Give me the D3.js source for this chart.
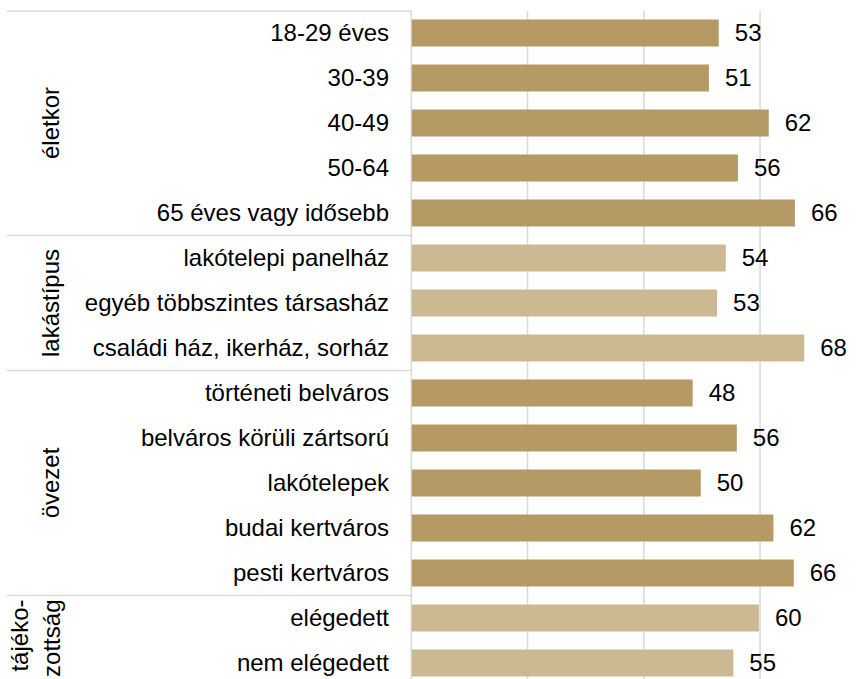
<!DOCTYPE html>
<html>
<head>
<meta charset="utf-8">
<script src="https://cdn.jsdelivr.net/npm/d3@7"></script>
<style>
  body { margin: 0; background: #fff; }
  text { font-family: "Liberation Sans", Arial, sans-serif; fill: #000; }
</style>
</head>
<body>
<div id="chart"></div>
<script>
const categories = [
    "18-29 éves", "30-39", "40-49", "50-64", "65 éves vagy idősebb",
    "lakótelepi panelház", "egyéb többszintes társasház", "családi ház, ikerház, sorház",
    "történeti belváros", "belváros körüli zártsorú", "lakótelepek", "budai kertváros", "pesti kertváros",
    "elégedett", "nem elégedett"
];
const values = [52.9, 51.2, 61.5, 56.2, 66.0, 54.1, 52.6, 67.6, 48.4, 56.0, 49.8, 62.3, 65.8, 59.8, 55.4];
const groupNames = [["életkor"], ["lakástípus"], ["övezet"], ["tájéko-", "zottság"]];
const groupSizes = [5, 3, 5, 2];
const groupShade = ["dark", "light", "dark", "light"];
const gridTicks = [0, 20, 40, 60, 80];

const width = 861;
const height = 679;
const colors = { dark: "#b59a65", light: "#cdb991" };
const lineColor = "#d9d9d9";
const fontSize = 24;

const x = d3.scaleLinear().domain([0, 80]).range([411.3, 876.3]);
const y = d3.scaleBand()
    .domain(d3.range(categories.length))
    .range([10.5, 685.5])
    .paddingInner(0.4)
    .paddingOuter(0.2);

const svg = d3.select("#chart")
    .append("svg")
    .attr("width", width)
    .attr("height", height);

// group of each row
const rowGroup = [];
groupSizes.forEach((n, g) => { for (let k = 0; k < n; k++) rowGroup.push(g); });

// Vertical gridlines
svg.append("g")
    .selectAll("line")
    .data(gridTicks)
    .join("line")
    .attr("x1", d => x(d))
    .attr("x2", d => x(d))
    .attr("y1", 11)
    .attr("y2", height)
    .attr("stroke", lineColor)
    .attr("stroke-width", 1.5);

// Group separators (top edge + between groups)
let start = 0;
const groupBounds = groupSizes.map(n => {
    const b = { first: start, last: start + n - 1 };
    start += n;
    return b;
});
const step = y.step();
const gap = step - y.bandwidth();
const sepYs = [11].concat(groupBounds.slice(1).map(b => y(b.first) - gap / 2));
svg.append("g")
    .selectAll("line")
    .data(sepYs)
    .join("line")
    .attr("x1", 7)
    .attr("x2", x(0))
    .attr("y1", d => d)
    .attr("y2", d => d)
    .attr("stroke", lineColor)
    .attr("stroke-width", 1.5);

// Bars
svg.append("g")
    .selectAll("rect")
    .data(values)
    .join("rect")
    .attr("x", x(0) + 0.5)
    .attr("y", (d, i) => y(i))
    .attr("width", d => x(d) - x(0) - 0.5)
    .attr("height", y.bandwidth())
    .attr("fill", (d, i) => colors[groupShade[rowGroup[i]]]);

// Value labels
svg.append("g")
    .selectAll("text")
    .data(values)
    .join("text")
    .attr("x", d => x(d) + 16)
    .attr("y", (d, i) => y(i) + y.bandwidth() / 2)
    .attr("dy", "0.35em")
    .attr("font-size", fontSize)
    .text(d => Math.round(d));

// Category labels
svg.append("g")
    .selectAll("text")
    .data(categories)
    .join("text")
    .attr("x", 389)
    .attr("y", (d, i) => y(i) + y.bandwidth() / 2)
    .attr("dy", "0.35em")
    .attr("text-anchor", "end")
    .attr("font-size", fontSize)
    .text(d => d);

// Rotated group labels
groupNames.forEach((lines, g) => {
    const b = groupBounds[g];
    const cy = (y(b.first) + y(b.last) + y.bandwidth()) / 2;
    if (lines.length === 1) {
        svg.append("text")
            .attr("transform", `translate(59, ${cy}) rotate(-90)`)
            .attr("text-anchor", "middle")
            .attr("font-size", fontSize)
            .text(lines[0]);
    } else {
        // two-line label, top aligned like the original
        const top = y(b.first) - gap / 2 + 4;
        lines.forEach((t, k) => {
            svg.append("text")
                .attr("transform", `translate(${28 + k * 32}, ${top}) rotate(-90)`)
                .attr("text-anchor", "end")
                .attr("font-size", fontSize)
                .text(t);
        });
    }
});
</script>
</body>
</html>
